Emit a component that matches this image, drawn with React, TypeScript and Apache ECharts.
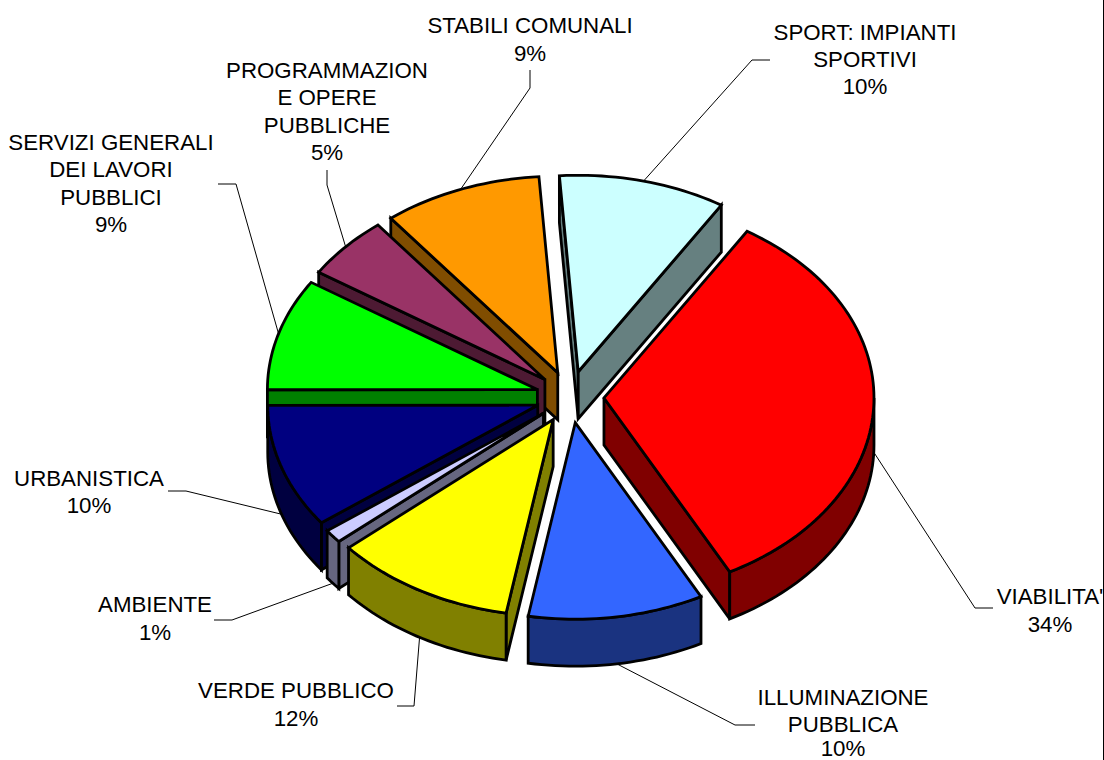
import React, { useEffect, useRef } from "react";
import * as echarts from "echarts";

// Data
const categories = [
  "VIABILITA'",
  "ILLUMINAZIONE\nPUBBLICA",
  "VERDE PUBBLICO",
  "AMBIENTE",
  "URBANISTICA",
  "SERVIZI GENERALI\nDEI LAVORI\nPUBBLICI",
  "PROGRAMMAZION\nE OPERE\nPUBBLICHE",
  "STABILI COMUNALI",
  "SPORT: IMPIANTI\nSPORTIVI",
];
// Printed data labels
const percentLabels = ["34%", "10%", "12%", "1%", "10%", "9%", "5%", "9%", "10%"];
// Share of the circle each slice actually occupies
const sliceShares = [33.4, 10.5, 10.9, 1.1, 10.2, 9.2, 5.2, 9.5, 10.0];
const topColors = ["#FF0000", "#3366FF", "#FFFF00", "#CCCCFF", "#000080", "#00FF00", "#993366", "#FF9900", "#CCFFFF"];
const wallColors = ["#800000", "#1A3380", "#808000", "#666680", "#000040", "#008000", "#4D1A33", "#804D00", "#668080"];

// Layout
const FONT = '22.3px "Liberation Sans", Arial, sans-serif';
const LINE_HEIGHT = 27.2;
const MAX_PERCENT_Y = 748.5;
const START_ANGLE = 58;
const CX = 570;
const CY = 397;
const RX = 270;
const RY = 196.5;
const EXPLODE_X = 34;
const EXPLODE_Y = 26;
const DEPTH = 47;
const labelCenters = [
  [1050, 610.5],
  [843, 724.5],
  [296, 704.5],
  [155, 618.5],
  [89, 492],
  [111, 183.5],
  [327, 111.5],
  [530, 39.5],
  [865, 59.5],
];
const leaderElbows = [
  [[975, 608], [993, 608]],
  [[735, 725], [755, 725]],
  [[414, 706], [397, 706]],
  [[232, 620], [214, 620]],
  [[186, 491], [168, 491]],
  [[236, 184], [218, 184]],
  [[327, 185], [327, 170]],
  [[530, 88], [530, 70]],
  [[752, 60], [770, 60]],
];

const rad = (d: number) => (d * Math.PI) / 180;
const totalShare = sliceShares.reduce((a, b) => a + b, 0);

type Slice = { s: number; e: number; mid: number; ax: number; ay: number };
const slices: Slice[] = (() => {
  let cur = START_ANGLE;
  return sliceShares.map((v) => {
    const s = cur;
    const e = cur - (v / totalShare) * 360;
    cur = e;
    const mid = (s + e) / 2;
    return {
      s,
      e,
      mid,
      ax: CX + EXPLODE_X * Math.cos(rad(mid)),
      ay: CY - EXPLODE_Y * Math.sin(rad(mid)),
    };
  });
})();

const rim = (sl: Slice, t: number, down = 0): number[] => [
  sl.ax + RX * Math.cos(rad(t)),
  sl.ay - RY * Math.sin(rad(t)) + down,
];

const arcPoints = (sl: Slice, from: number, to: number, down = 0) => {
  const n = Math.max(2, Math.ceil(Math.abs(from - to) / 1.5));
  const pts: number[][] = [];
  for (let i = 0; i <= n; i++) pts.push(rim(sl, from + ((to - from) * i) / n, down));
  return pts;
};

const poly = (points: number[][], fill: string) => ({
  type: "polygon",
  shape: { points },
  style: { fill, stroke: "#000", lineWidth: 2.8, lineJoin: "miter", miterLimit: 3 },
  silent: true,
});

// Back slices first, so the nearer ones cover them
const drawOrder = slices
  .map((sl, i) => ({ i, k: Math.sin(rad(sl.mid)) }))
  .sort((a, b) => b.k - a.k)
  .map((o) => o.i);

const renderSlice = (_p: any, api: any) => {
  const i = api.value(0);
  const sl = slices[i];
  const wall = wallColors[i];
  const children: any[] = [];
  const face = (t: number) => {
    const r = rim(sl, t);
    return poly(
      [
        [sl.ax, sl.ay],
        r,
        [r[0], r[1] + DEPTH],
        [sl.ax, sl.ay + DEPTH],
      ],
      wall,
    );
  };
  if (Math.cos(rad(sl.s)) < 0) children.push(face(sl.s));
  if (Math.cos(rad(sl.e)) > 0) children.push(face(sl.e));
  const hi = Math.min(sl.s, 0);
  const lo = Math.max(sl.e, -180);
  if (hi - lo > 0.5) {
    const upper = arcPoints(sl, hi, lo);
    const lower = arcPoints(sl, lo, hi, DEPTH);
    children.push(poly([...upper, ...lower], wall));
  }
  children.push(poly([[sl.ax, sl.ay], ...arcPoints(sl, sl.s, sl.e)], topColors[i]));
  return { type: "group", children };
};

const renderLeader = (_p: any, api: any) => {
  const i = api.value(0);
  const sl = slices[i];
  const start = rim(sl, sl.mid, Math.sin(rad(sl.mid)) < 0 ? DEPTH : 0);
  return {
    type: "polyline",
    shape: { points: [start, ...leaderElbows[i]] },
    style: { fill: "none", stroke: "#000", lineWidth: 1 },
    silent: true,
  };
};

const textEl = (text: string, x: number, y: number, lineHeight: number) => ({
  type: "text",
  x,
  y,
  z: 10,
  silent: true,
  style: {
    text,
    font: FONT,
    fill: "#000",
    align: "center",
    verticalAlign: "middle",
    textAlign: "center",
    textVerticalAlign: "middle",
    lineHeight,
  },
});

export default function App() {
  const ref = useRef<HTMLDivElement>(null);
  useEffect(() => {
    document.body.style.margin = "0";
    const chart = echarts.init(ref.current!, undefined, { renderer: "svg" });
    chart.setOption({
      animation: false,
      backgroundColor: "#fff",
      series: [
        {
          type: "custom",
          coordinateSystem: "none",
          z: 1,
          silent: true,
          clip: false,
          data: categories.map((_, i) => [i]),
          renderItem: renderLeader,
        },
        {
          type: "custom",
          coordinateSystem: "none",
          z: 2,
          silent: true,
          clip: false,
          data: drawOrder.map((i) => [i]),
          renderItem: renderSlice,
        },
      ],
      graphic: [
        ...categories.flatMap((name, i) => {
          const [x, c] = labelCenters[i];
          const n = name.split("\n").length;
          return [
            textEl(name, x, c - LINE_HEIGHT / 2, LINE_HEIGHT),
            textEl(percentLabels[i], x, Math.min(c + (n * LINE_HEIGHT) / 2, MAX_PERCENT_Y), 22),
          ];
        }),
        {
          type: "line",
          z: 11,
          silent: true,
          shape: { x1: 1103.5, y1: 0, x2: 1103.5, y2: 760 },
          style: { stroke: "#000", lineWidth: 1 },
        },
      ],
    });
    return () => chart.dispose();
  }, []);
  return <div ref={ref} style={{ width: 1104, height: 760 }} />;
}
